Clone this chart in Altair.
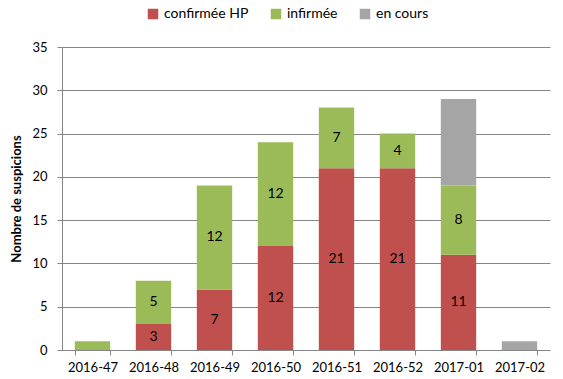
import altair as alt
import pandas as pd

weeks = ["2016-47", "2016-48", "2016-49", "2016-50", "2016-51", "2016-52", "2017-01", "2017-02"]
confirmee = [0, 3, 7, 12, 21, 21, 11, 0]
infirmee = [1, 5, 12, 12, 7, 4, 8, 0]
en_cours = [0, 0, 0, 0, 0, 0, 10, 1]

series = ["confirmée HP", "infirmée", "en cours"]
colors = ["#C0504D", "#9BBB59", "#A5A5A5"]

rows = []
for i, w in enumerate(weeks):
    for k, (s, vals) in enumerate(zip(series, [confirmee, infirmee, en_cours])):
        rows.append({"week": w, "series": s, "value": vals[i], "order": k})
df = pd.DataFrame(rows)

FONT = "Lato"

base = alt.Chart(df).transform_stack(
    stack="value", groupby=["week"], sort=[{"field": "order", "order": "ascending"}], as_=["y0", "y1"]
).transform_calculate(mid="(datum.y0 + datum.y1) / 2")

x = alt.X("week:N", sort=weeks, title=None,
          scale=alt.Scale(paddingInner=0.42, paddingOuter=0.21),
          axis=alt.Axis(tickBand="extent", labelAngle=0, domainColor="#868686", tickColor="#868686",
                        tickSize=5, labelPadding=6, labelFontSize=13, labelColor="#000000", labelFont=FONT))

bars = base.mark_bar(strokeWidth=0).encode(
    x=x,
    y=alt.Y("y0:Q", scale=alt.Scale(domain=[0, 35]), title="Nombre de suspicions",
            axis=alt.Axis(values=list(range(0, 36, 5)), gridColor="#868686", domainColor="#868686",
                          tickColor="#868686", tickSize=5, labelPadding=10, labelFontSize=13,
                          labelColor="#000000", labelFont=FONT, titleFont=FONT, titleFontSize=13,
                          titleFontWeight="bold", titleColor="#000000", titlePadding=8)),
    y2="y1:Q",
    color=alt.Color("series:N", scale=alt.Scale(domain=series, range=colors), title=None,
                    legend=alt.Legend(orient="none", legendX=84, legendY=-40, direction="horizontal",
                                      symbolType="square", symbolSize=110, symbolStrokeWidth=0,
                                      labelFontSize=14, labelFont=FONT, labelColor="#000000",
                                      columnPadding=20, symbolOffset=0, labelOffset=4)),
)

labels = base.transform_filter("datum.series != 'en cours' && datum.value > 1").mark_text(
    fontSize=14, font=FONT, color="#000000"
).encode(
    x=alt.X("week:N", sort=weeks),
    y="mid:Q",
    text="value:Q",
)

chart = alt.layer(bars, labels).properties(
    width=488, height=303,
    autosize=alt.AutoSizeParams(type="none"),
    padding={"left": 62, "top": 47, "right": 13, "bottom": 29},
).configure_view(stroke=None).configure_axis(grid=False).configure_axisY(grid=True)

chart.save("out.html", embed_options={"renderer": "svg", "actions": False})
